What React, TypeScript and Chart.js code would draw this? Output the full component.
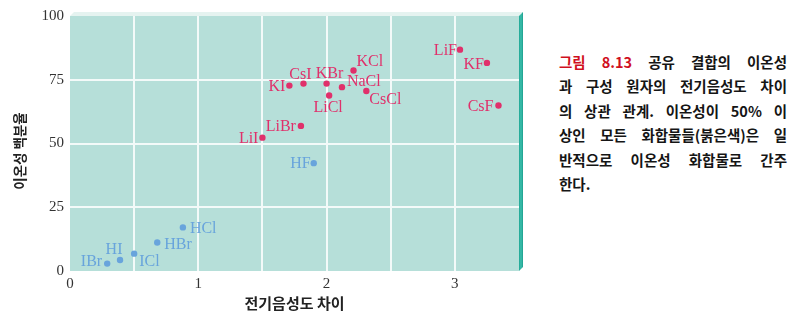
import { useEffect, useRef } from "react";
import { Chart, registerables } from "chart.js";

Chart.register(...registerables);

// Ionic compounds (drawn in red): electronegativity difference vs. percent ionic character
const ionicNames = ["LiF", "KF", "CsF", "KCl", "KBr", "CsI", "KI", "NaCl", "LiCl", "CsCl", "LiBr", "LiI"];
const ionicDiff = [3.04, 3.25, 3.34, 2.21, 2.0, 1.82, 1.71, 2.12, 2.02, 2.31, 1.8, 1.5];
const ionicPct = [86.8, 81.6, 64.9, 78.6, 73.5, 73.5, 72.7, 72.1, 68.8, 70.6, 56.9, 52.3];

// Covalent compounds (drawn in blue)
const covalentNames = ["HF", "HCl", "HBr", "ICl", "HI", "IBr"];
const covalentDiff = [1.9, 0.88, 0.68, 0.5, 0.39, 0.29];
const covalentPct = [42.3, 17.1, 11.2, 6.8, 4.3, 2.9];

// Axis ticks
const xTickLabels = [0, 1, 2, 3];
const yTickLabels = [0, 25, 50, 75, 100];

const xTitle = "전기음성도 차이";
const yTitle = "이온성 백분율";

const captionLines = [
  ["그림 8.13", " 공유 결합의 이온성"],
  ["", "과 구성 원자의 전기음성도 차이"],
  ["", "의 상관 관계. 이온성이 50% 이"],
  ["", "상인 모든 화합물들(붉은색)은 일"],
  ["", "반적으로 이온성 화합물로 간주"],
  ["", "한다."],
];

const RED = "#e0306b";
const BLUE = "#68a4dc";
const PLOT_BG = "#b6dfd9";

// Where each point's name sits relative to its dot: [dx, dy, textAlign]
const labelPlacement: Record<string, [number, number, CanvasTextAlign]> = {
  LiF: [-3, 0, "right"],
  KF: [-3, 1, "right"],
  CsF: [-5, 0, "right"],
  KCl: [3, -10, "left"],
  KBr: [3, -11, "center"],
  CsI: [-3, -10, "center"],
  KI: [-4, 0, "right"],
  NaCl: [5, -6, "left"],
  LiCl: [-1, 11, "center"],
  CsCl: [3, 8, "left"],
  LiBr: [-5, 0, "right"],
  LiI: [-4, 0, "right"],
  HF: [-3, 0, "right"],
  HCl: [7, 0, "left"],
  HBr: [7, 1, "left"],
  ICl: [5, 7, "left"],
  HI: [-6, -11, "center"],
  IBr: [-5, -3, "right"],
};

const framePlugin = {
  id: "frame",
  beforeDraw(chart: any) {
    const { ctx, chartArea: a } = chart;
    ctx.save();
    ctx.fillStyle = PLOT_BG;
    ctx.fillRect(a.left, a.top, a.right - a.left, a.bottom - a.top);
    // top face of the box
    ctx.fillStyle = "#e5f3f0";
    ctx.beginPath();
    ctx.moveTo(a.left, a.top);
    ctx.lineTo(a.left + 4, a.top - 4);
    ctx.lineTo(a.right + 4, a.top - 4);
    ctx.lineTo(a.right, a.top);
    ctx.closePath();
    ctx.fill();
    // right face of the box
    const g = ctx.createLinearGradient(a.right, 0, a.right + 4, 0);
    g.addColorStop(0, "#1fa694");
    g.addColorStop(0.5, "#3cbfad");
    g.addColorStop(1, "#1c9e8d");
    ctx.fillStyle = g;
    ctx.beginPath();
    ctx.moveTo(a.right, a.top);
    ctx.lineTo(a.right + 4, a.top - 4);
    ctx.lineTo(a.right + 4, a.bottom - 4);
    ctx.lineTo(a.right, a.bottom);
    ctx.closePath();
    ctx.fill();
    ctx.restore();
  },
  afterDatasetsDraw(chart: any) {
    const { ctx } = chart;
    ctx.save();
    ctx.font = '16px "Liberation Serif", serif';
    ctx.textBaseline = "middle";
    chart.data.datasets.forEach((ds: any, di: number) => {
      const meta = chart.getDatasetMeta(di);
      ctx.fillStyle = ds.backgroundColor;
      meta.data.forEach((el: any, i: number) => {
        const name = ds.names[i];
        const [dx, dy, align] = labelPlacement[name];
        ctx.textAlign = align;
        ctx.fillText(name, el.x + dx, el.y + dy + 1);
      });
    });
    ctx.restore();
  },
  afterDraw(chart: any) {
    const { ctx, chartArea: a } = chart;
    ctx.save();
    ctx.fillStyle = "#222";
    ctx.font = '700 15px "Noto Sans CJK KR", sans-serif';
    ctx.textAlign = "center";
    ctx.textBaseline = "middle";
    ctx.fillText(xTitle, (a.left + a.right) / 2, 303);
    ctx.translate(20, 151);
    ctx.rotate(-Math.PI / 2);
    ctx.font = '700 13.5px "Noto Sans CJK KR", sans-serif';
    ctx.fillText(yTitle, 0, 0);
    ctx.restore();
  },
};

export default function App() {
  const canvasRef = useRef<HTMLCanvasElement>(null);

  useEffect(() => {
    const canvas = canvasRef.current;
    if (!canvas) return;
    const chart = new Chart(canvas, {
      type: "scatter",
      data: {
        datasets: [
          {
            label: "ionic",
            names: ionicNames,
            data: ionicDiff.map((x, i) => ({ x, y: ionicPct[i] })),
            backgroundColor: RED,
            borderColor: RED,
            pointRadius: 3.2,
            pointBorderWidth: 0,
          } as any,
          {
            label: "covalent",
            names: covalentNames,
            data: covalentDiff.map((x, i) => ({ x, y: covalentPct[i] })),
            backgroundColor: BLUE,
            borderColor: BLUE,
            pointRadius: 3.2,
            pointBorderWidth: 0,
          } as any,
        ],
      },
      options: {
        responsive: false,
        animation: false,
        layout: { padding: { left: 0, top: 16, right: 21, bottom: 0 } },
        plugins: { legend: { display: false }, tooltip: { enabled: false } },
        scales: {
          x: {
            type: "linear",
            min: 0,
            max: 3.5,
            afterFit: (scale: any) => {
              scale.height = 48;
            },
            ticks: {
              stepSize: 0.5,
              padding: 4,
              maxRotation: 0,
              autoSkip: false,
              color: "#333",
              font: { family: '"Liberation Serif", serif', size: 15 },
              callback: (v: any) => (xTickLabels.includes(Number(v)) ? String(v) : ""),
            },
            grid: {
              drawTicks: false,
              lineWidth: 2,
              color: (c: any) =>
                c.tick && (c.tick.value === 0 || c.tick.value === 3.5) ? "rgba(0,0,0,0)" : "#f3faf9",
            },
            border: { display: false },
          },
          y: {
            type: "linear",
            min: 0,
            max: 100,
            afterFit: (scale: any) => {
              scale.width = 70;
            },
            ticks: {
              stepSize: 25,
              padding: 6,
              color: "#333",
              font: { family: '"Liberation Serif", serif', size: 15 },
              callback: (v: any) => (yTickLabels.includes(Number(v)) ? String(v) : ""),
            },
            grid: {
              drawTicks: false,
              lineWidth: 2,
              color: (c: any) =>
                c.tick && (c.tick.value === 0 || c.tick.value === 100) ? "rgba(0,0,0,0)" : "#f3faf9",
            },
            border: { display: false },
          },
        },
      },
      plugins: [framePlugin],
    });
    return () => chart.destroy();
  }, []);

  return (
    <div
      style={{
        position: "fixed",
        left: 0,
        top: 0,
        width: 802,
        height: 319,
        background: "#fff",
        overflow: "hidden",
      }}
    >
      <canvas
        ref={canvasRef}
        width={540}
        height={319}
        style={{ position: "absolute", left: 0, top: 0, display: "block" }}
      />
      <div
        style={{
          position: "absolute",
          left: 559,
          top: 49.5,
          width: 228,
          fontFamily: '"Noto Sans CJK KR", sans-serif',
          fontWeight: 700,
          fontSize: 14.5,
          color: "#151515",
        }}
      >
        {captionLines.map(([lead, rest], i) => (
          <div
            key={i}
            style={{
              height: 24.5,
              lineHeight: "24.5px",
              whiteSpace: "nowrap",
              textAlign: "justify",
              textAlignLast: i === captionLines.length - 1 ? "left" : "justify",
            }}
          >
            {lead && <span style={{ color: "#d0101e" }}>{lead}</span>}
            {rest}
          </div>
        ))}
      </div>
    </div>
  );
}
